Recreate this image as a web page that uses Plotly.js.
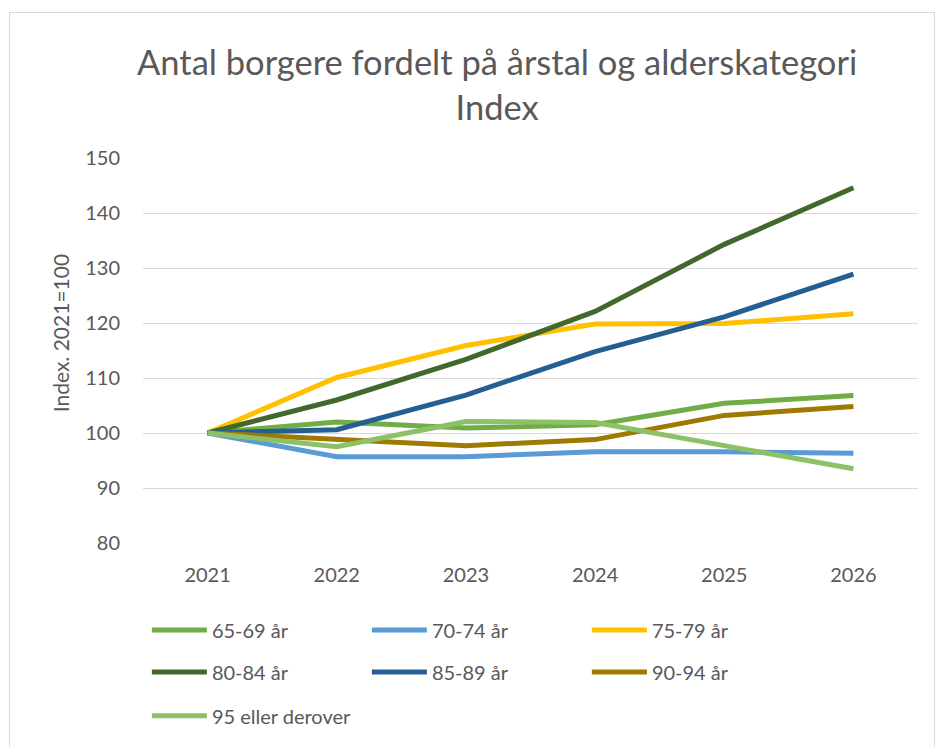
<!DOCTYPE html>
<html>
<head>
<meta charset="utf-8">
<script src="https://cdn.plot.ly/plotly-3.0.1.min.js"></script>
<style>
html,body{margin:0;padding:0;background:#fff;}
#frame{position:absolute;left:9px;top:12px;width:926px;height:740px;border:1px solid #d9d9d9;box-sizing:border-box;}
#chart{position:absolute;left:0;top:0;width:938px;height:747px;}
</style>
</head>
<body>
<div id="frame"></div>
<div id="chart"></div>
<script>
const years = ['2021','2022','2023','2024','2025','2026'];
const seriesNames = ['65-69 år','70-74 år','75-79 år','80-84 år','85-89 år','90-94 år','95 eller derover'];
const s6569 = [100, 102.0, 100.9, 101.5, 105.4, 106.8];
const s7074 = [100, 95.7, 95.7, 96.6, 96.6, 96.3];
const s7579 = [100, 110.1, 115.9, 119.8, 119.9, 121.7];
const s8084 = [100, 106.0, 113.4, 122.1, 134.3, 144.6];
const s8589 = [100, 100.6, 106.9, 114.8, 121.1, 128.9];
const s9094 = [100, 98.9, 97.7, 98.8, 103.2, 104.8];
const s95 = [100, 97.5, 102.1, 101.9, 97.7, 93.5];
const seriesValues = [s6569, s7074, s7579, s8084, s8589, s9094, s95];
const colors = ['#70AD47','#5B9BD5','#FFC000','#43682B','#255E91','#9E7A00','#8CC168'];
const legendOf = ['legend','legend','legend','legend2','legend2','legend2','legend3'];
const yTitle = 'Index. 2021=100';

const traces = seriesNames.map((n,i)=>({
  x: years, y: seriesValues[i], name: n, type:'scatter', mode:'lines',
  line:{color:colors[i], width:5}, legend: legendOf[i], hoverinfo:'skip'
}));

const font = {family:'Lato, "Open Sans", sans-serif', color:'#595959'};
const legBase = {orientation:'h', xanchor:'left', yanchor:'middle', x:0.005,
  entrywidth:150, entrywidthmode:'pixels', itemwidth:55,
  font:{family:font.family, size:20, color:'#595959'}, bgcolor:'rgba(0,0,0,0)', borderwidth:0};

const layout = {
  width:938, height:747,
  margin:{l:143, r:20, t:158, b:204},
  paper_bgcolor:'rgba(0,0,0,0)', plot_bgcolor:'rgba(0,0,0,0)',
  font: font,
  title:{text:'Antal borgere fordelt på årstal og alderskategori<br>Index',
    font:{family:font.family, size:34.5, color:'#595959'},
    xref:'container', x:0.53, xanchor:'center', yref:'container', y:0.90, yanchor:'top'},
  xaxis:{type:'category', range:[-0.5,5.5], showgrid:false, zeroline:false, showline:false,
    ticks:'', tickfont:{size:20, color:'#595959'}, ticklabelstandoff:18},
  yaxis:{range:[80,150], dtick:10, tick0:80, gridcolor:'#D9D9D9', gridwidth:1, zeroline:false,
    showline:false, ticks:'', tickfont:{size:20, color:'#595959'}, ticklabelstandoff:22},
  annotations:[{text:yTitle, xref:'paper', yref:'paper', x:-0.107, y:0.545,
    xanchor:'center', yanchor:'middle', textangle:-90, showarrow:false,
    font:{family:font.family, size:21, color:'#595959'}}],
  legend: Object.assign({}, legBase, {y:-0.226}),
  legend2: Object.assign({}, legBase, {y:-0.335}),
  legend3: Object.assign({}, legBase, {y:-0.449}),
  showlegend:true
};
Plotly.newPlot('chart', traces, layout, {displayModeBar:false, staticPlot:true});
</script>
</body>
</html>
